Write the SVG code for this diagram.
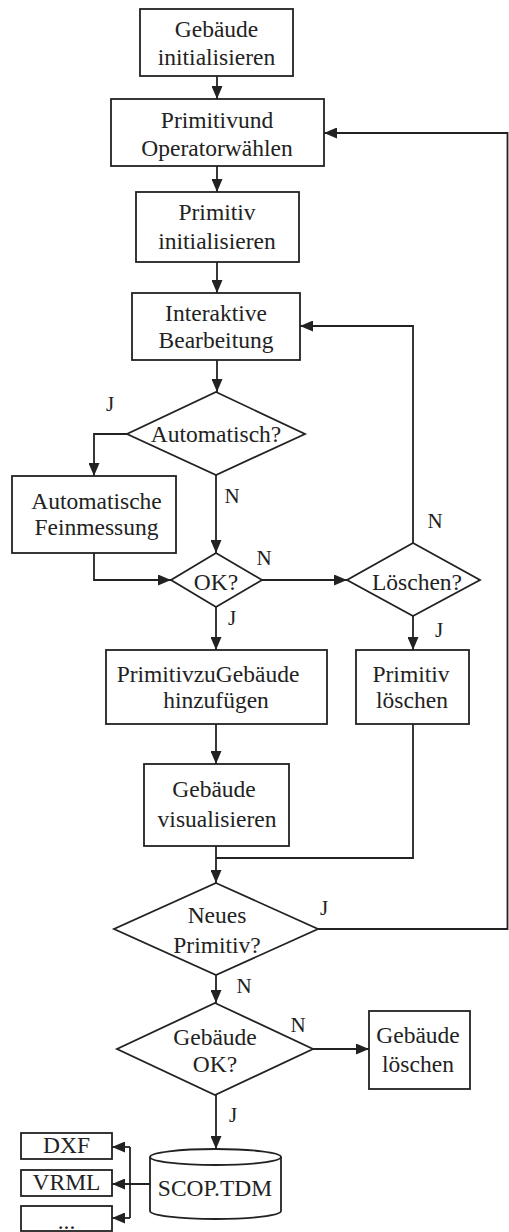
<svg xmlns="http://www.w3.org/2000/svg" width="509" height="1232" viewBox="0 0 509 1232">
<defs>
<style>
.box{fill:#fff;stroke:#222;stroke-width:1.8}
.ln{fill:none;stroke:#222;stroke-width:1.8}
.t{font-family:"Liberation Serif","Times New Roman",serif;font-size:23.5px;fill:#222;text-anchor:middle}
.lb{font-family:"Liberation Serif","Times New Roman",serif;font-size:21px;fill:#222;text-anchor:middle}
</style>
<marker id="ah" markerUnits="userSpaceOnUse" markerWidth="13" markerHeight="11" refX="13" refY="5.5" orient="auto">
<path d="M0,0 L13,5.5 L0,11 Z" fill="#222"/>
</marker>
</defs>
<rect width="509" height="1232" fill="#fff"/>

<g id="connectors">
<path class="ln" d="M217,76 V99" marker-end="url(#ah)"/>
<path class="ln" d="M217,166 V192" marker-end="url(#ah)"/>
<path class="ln" d="M217,262 V293" marker-end="url(#ah)"/>
<path class="ln" d="M217,360 V392" marker-end="url(#ah)"/>
<path class="ln" d="M127,434 H94 V476" marker-end="url(#ah)"/>
<path class="ln" d="M216,475 V553" marker-end="url(#ah)"/>
<path class="ln" d="M94,553 V580 H171" marker-end="url(#ah)"/>
<path class="ln" d="M262,580 H347" marker-end="url(#ah)"/>
<path class="ln" d="M413,543 V326 H300" marker-end="url(#ah)"/>
<path class="ln" d="M216,607 V650" marker-end="url(#ah)"/>
<path class="ln" d="M413,616 V650" marker-end="url(#ah)"/>
<path class="ln" d="M216,724 V764" marker-end="url(#ah)"/>
<path class="ln" d="M216,846 V883" marker-end="url(#ah)"/>
<path class="ln" d="M413,724 V858 H216"/>
<path class="ln" d="M318,929 H507.5 V133 H324" marker-end="url(#ah)"/>
<path class="ln" d="M216,975 V1003" marker-end="url(#ah)"/>
<path class="ln" d="M313,1049 H369" marker-end="url(#ah)"/>
<path class="ln" d="M216,1095 V1149" marker-end="url(#ah)"/>
<path class="ln" d="M150,1184 H112" marker-end="url(#ah)"/>
<path class="ln" d="M130,1147 V1218"/>
<path class="ln" d="M130,1147 H112" marker-end="url(#ah)"/>
<path class="ln" d="M130,1218 H112" marker-end="url(#ah)"/>
<text class="lb" x="110" y="411">J</text>
<text class="lb" x="232" y="503">N</text>
<text class="lb" x="264" y="565">N</text>
<text class="lb" x="435" y="528">N</text>
<text class="lb" x="232" y="625">J</text>
<text class="lb" x="439" y="637">J</text>
<text class="lb" x="324" y="915">J</text>
<text class="lb" x="244" y="993">N</text>
<text class="lb" x="298" y="1032">N</text>
<text class="lb" x="233" y="1122">J</text>
</g>

<g id="n_gebaeude_init">
<rect class="box" x="140" y="9" width="153" height="67"/>
<text class="t" x="216.5" y="37">Gebäude</text>
<text class="t" x="216.5" y="65">initialisieren</text>
</g>
<g id="n_primitiv_operator">
<rect class="box" x="111" y="99" width="213" height="67"/>
<text class="t" x="217" y="128">Primitivund</text>
<text class="t" x="217" y="156">Operatorwählen</text>
</g>
<g id="n_primitiv_init">
<rect class="box" x="136" y="192" width="163" height="70"/>
<text class="t" x="217" y="220">Primitiv</text>
<text class="t" x="217" y="249">initialisieren</text>
</g>
<g id="n_interaktiv">
<rect class="box" x="132" y="293" width="168" height="67"/>
<text class="t" x="216" y="321">Interaktive</text>
<text class="t" x="216" y="348">Bearbeitung</text>
</g>
<g id="n_automatisch">
<polygon class="box" points="216,392 305,434 216,475 127,434"/>
<text class="t" x="216" y="442">Automatisch?</text>
</g>
<g id="n_feinmessung">
<rect class="box" x="12" y="476" width="164" height="77"/>
<text class="t" x="96.5" y="509">Automatische</text>
<text class="t" x="96.5" y="535">Feinmessung</text>
</g>
<g id="n_ok">
<polygon class="box" points="216,553 262,580 216,607 171,580"/>
<text class="t" x="216" y="590">OK?</text>
</g>
<g id="n_loeschen_q">
<polygon class="box" points="413,543 480,580 413,616 347,580"/>
<text class="t" x="417" y="590">Löschen?</text>
</g>
<g id="n_hinzufuegen">
<rect class="box" x="106" y="650" width="221" height="74"/>
<text class="t" x="208" y="682">PrimitivzuGebäude</text>
<text class="t" x="216" y="708">hinzufügen</text>
</g>
<g id="n_primitiv_loeschen">
<rect class="box" x="356" y="650" width="113" height="74"/>
<text class="t" x="411" y="682">Primitiv</text>
<text class="t" x="412" y="708">löschen</text>
</g>
<g id="n_visualisieren">
<rect class="box" x="144" y="764" width="145" height="82"/>
<text class="t" x="214" y="797">Gebäude</text>
<text class="t" x="217" y="827">visualisieren</text>
</g>
<g id="n_neues">
<polygon class="box" points="216,883 318,929 216,975 114,929"/>
<text class="t" x="217" y="923">Neues</text>
<text class="t" x="217" y="953">Primitiv?</text>
</g>
<g id="n_gebaeude_ok">
<polygon class="box" points="215,1003 313,1049 215,1095 117,1049"/>
<text class="t" x="215" y="1045">Gebäude</text>
<text class="t" x="215" y="1072">OK?</text>
</g>
<g id="n_gebaeude_loeschen">
<rect class="box" x="369" y="1011" width="101" height="78"/>
<text class="t" x="418" y="1043">Gebäude</text>
<text class="t" x="418" y="1072">löschen</text>
</g>
<g id="n_scop">
<path class="box" d="M150,1157 V1211 A65.5,8 0 0 0 281,1211 V1157 A65.5,8 0 0 0 150,1157 Z"/>
<path class="ln" d="M150,1157 A65.5,8 0 0 0 281,1157"/>
<text class="t" x="215" y="1196">SCOP.TDM</text>
</g>
<g id="n_dxf">
<rect class="box" x="21" y="1133" width="91" height="26"/>
<text class="t" x="66.5" y="1153">DXF</text>
</g>
<g id="n_vrml">
<rect class="box" x="21" y="1170" width="91" height="26"/>
<text class="t" x="66.5" y="1190">VRML</text>
</g>
<g id="n_more">
<rect class="box" x="21" y="1206" width="91" height="25"/>
<text class="t" x="66.5" y="1229">...</text>
</g>
</svg>
